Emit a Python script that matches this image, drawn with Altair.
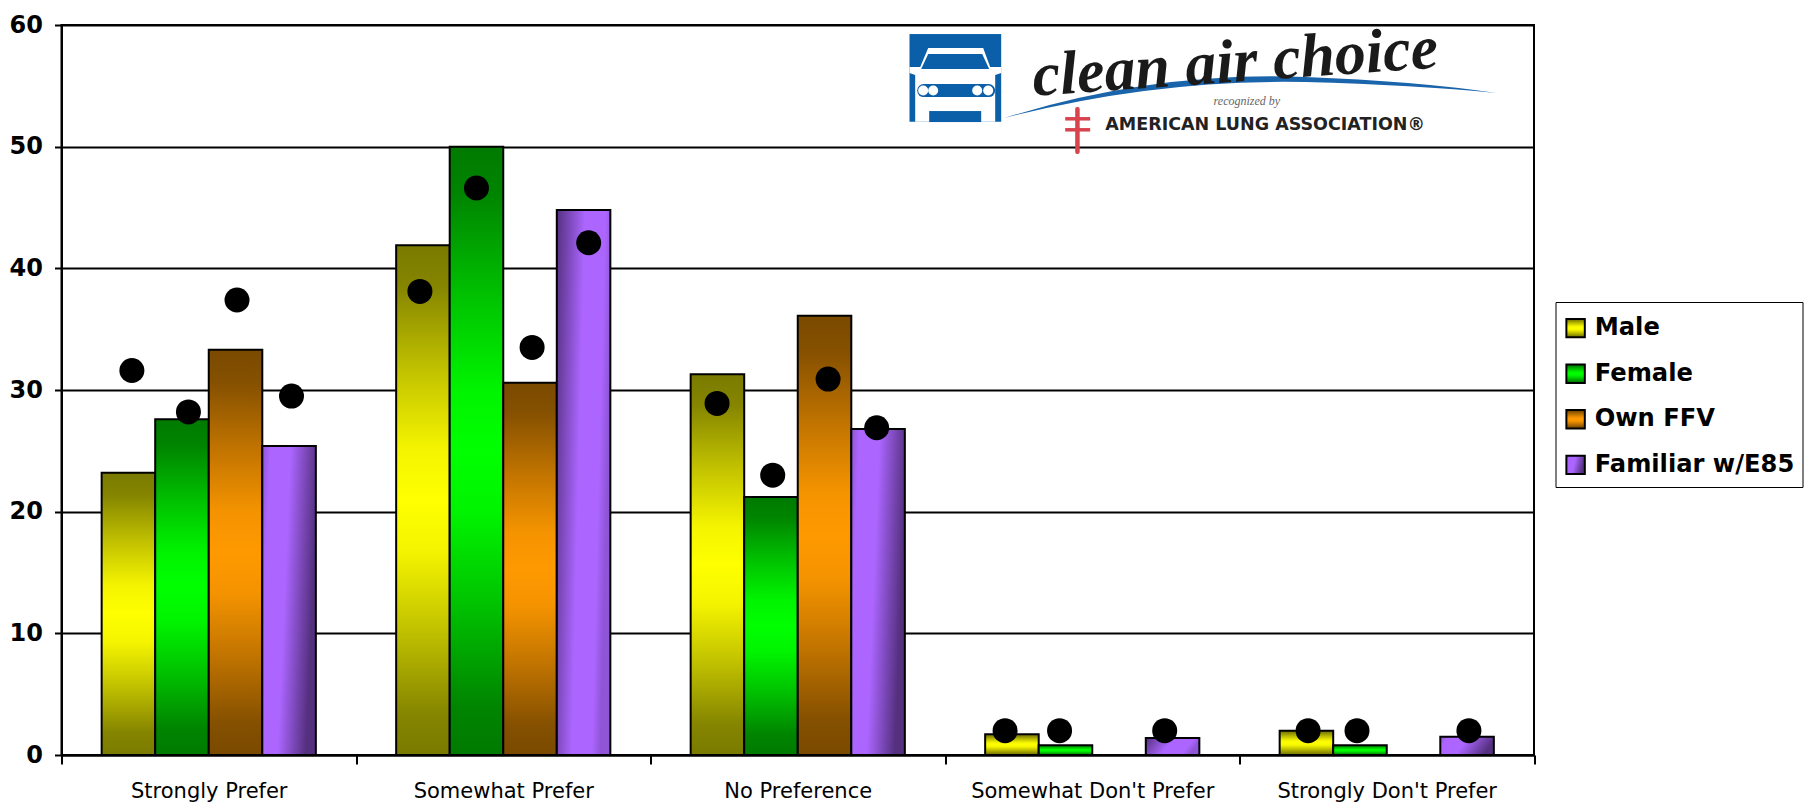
import urllib.parse
import altair as alt
import pandas as pd

categories = ["Strongly Prefer", "Somewhat Prefer", "No Preference", "Somewhat Don't Prefer", "Strongly Don't Prefer"]
series = ["Male", "Female", "Own FFV", "Familiar w/E85"]
male = [23.2, 41.9, 31.3, 1.7, 2.0]
female = [27.6, 50.0, 21.2, 0.8, 0.8]
own_ffv = [33.3, 30.6, 36.1, None, None]
familiar = [25.4, 44.8, 26.8, 1.4, 1.5]

dot_male = [31.6, 38.1, 28.9, 2.0, 2.0]
dot_female = [28.2, 46.6, 23.0, 2.0, 2.0]
dot_ffv = [37.4, 33.5, 30.9, None, None]
dot_familiar = [29.5, 42.1, 26.9, 2.0, 2.0]
dot_pos_male = [0.239, 1.217, 2.226, 3.204, 4.233]
dot_pos_female = [0.431, 1.409, 2.415, 3.389, 4.399]
dot_pos_ffv = [0.596, 1.598, 2.603, None, None]
dot_pos_familiar = [0.781, 1.790, 2.768, 3.746, 4.779]

LEFT_SHADED = "Familiar w/E85 (shaded left)"
bar_rows = []
for name, vals in zip(series, [male, female, own_ffv, familiar]):
    for i, (c, v) in enumerate(zip(categories, vals)):
        if v is None:
            continue
        key = LEFT_SHADED if (name == "Familiar w/E85" and i % 2 == 1) else name
        bar_rows.append({"category": c, "series": name, "shade": key, "value": v})
bars_df = pd.DataFrame(bar_rows)

dot_rows = []
for vals, pos in zip([dot_male, dot_female, dot_ffv, dot_familiar],
                     [dot_pos_male, dot_pos_female, dot_pos_ffv, dot_pos_familiar]):
    for v, p in zip(vals, pos):
        if v is not None:
            dot_rows.append({"pos": p, "value": v})
dots_df = pd.DataFrame(dot_rows)


def grad(x2, y2, x1=0, y1=0, stops=()):
    s = ",".join("{offset:%s,color:'%s'}" % st for st in stops)
    return {"expr": "{gradient:'linear',x1:%s,y1:%s,x2:%s,y2:%s,stops:[%s]}" % (x1, y1, x2, y2, s)}


def mix(dark, bright, t):
    d = [int(dark[i:i + 2], 16) for i in (1, 3, 5)]
    b = [int(bright[i:i + 2], 16) for i in (1, 3, 5)]
    return "#%02x%02x%02x" % tuple(round(p + (q - p) * t) for p, q in zip(d, b))


def vert(dark, bright):
    ramp = [(0, 0), (0.08, 0.08), (0.25, 0.55), (0.4, 0.92), (0.5, 1), (0.6, 0.92), (0.75, 0.55), (0.92, 0.08), (1, 0)]
    return grad(0, 1, stops=[(o, mix(dark, bright, t)) for o, t in ramp])


fills = [
    vert("#7a7a00", "#ffff00"),
    vert("#007a00", "#00ff00"),
    vert("#7a4a00", "#ff9900"),
    grad(1, 0.25, stops=[(0, "#8f55d6"), (0.15, "#ac66ff"), (0.5, "#ac66ff"), (1, "#54307f")]),
    grad(1, 0.25, stops=[(0, "#54307f"), (0.5, "#ac66ff"), (0.85, "#ac66ff"), (1, "#8f55d6")]),
]

car_svg = """<svg xmlns='http://www.w3.org/2000/svg' width='595' height='155' viewBox='0 0 595 155'>
<rect x='4.3' y='29' width='91.7' height='87.7' fill='#0b5fa9'/>
<path d='M23,43 L78,43 L85,62 L96,62 L96,68 L90,70 L90,116.7 L10,116.7 L10,70 L4.3,68 L4.3,62 L15,62 Z' fill='#ffffff'/>
<path d='M23,49 L77,49 L84,64 L16,64 Z' fill='#0b5fa9'/>
<rect x='12' y='79' width='78' height='13' rx='6.5' fill='#0b5fa9'/>
<circle cx='18' cy='85.5' r='5' fill='#ffffff'/><circle cx='28' cy='85.5' r='5' fill='#ffffff'/>
<circle cx='72' cy='85.5' r='5' fill='#ffffff'/><circle cx='83' cy='85.5' r='5' fill='#ffffff'/>
<rect x='24' y='106' width='52' height='11' fill='#0b5fa9'/>
<path d='M99,113 Q250,66 400,72 Q510,76 591,88 Q510,80 400,77 Q250,74 99,113 Z' fill='#1a64ab'/>
<rect x='170' y='102' width='4.5' height='47' rx='2' fill='#d8434e'/>
<rect x='160' y='112' width='25' height='3.5' fill='#d8434e'/>
<rect x='160' y='123' width='25' height='3.5' fill='#d8434e'/>
</svg>"""
logo_url = ["data:image/svg+xml," + urllib.parse.quote(car_svg)]
logo_pos = [3.875]
logo_val = [55.27]

logo_texts = ["clean air choice", "recognized by", "AMERICAN LUNG ASSOCIATION\u00ae"]
logo_text_pos = [3.985, 4.025, 4.087]
logo_text_val = [56.9, 53.75, 51.8]

x_bar = alt.X("category:N", sort=categories, scale=alt.Scale(domain=categories, paddingInner=0, paddingOuter=0),
              axis=alt.Axis(title=None, labelAngle=0, tickBand="extent", labelFont="DejaVu Sans", labelFontSize=21,
                            labelColor="black", labelPadding=16, labelLimit=280, tickSize=9, tickColor="black", tickWidth=2,
                            domainColor="black", domainWidth=2, grid=False))
y_main = alt.Y("value:Q", scale=alt.Scale(domain=[0, 60], nice=False),
               axis=alt.Axis(title=None, values=[0, 10, 20, 30, 40, 50, 60], labelFont="DejaVu Sans", labelFontWeight="bold",
                             labelFontSize=24, labelColor="black", labelPadding=12, tickSize=7, tickColor="black",
                             tickWidth=2, domainColor="black", domainWidth=2, grid=True, gridColor="black", gridWidth=2))

bars = alt.Chart(bars_df).mark_bar(stroke="black", strokeWidth=2).encode(
    x=x_bar,
    xOffset=alt.XOffset("series:N", sort=series,
                        scale=alt.Scale(domain=series, paddingInner=0, paddingOuter=0.75)),
    y=y_main,
    color=alt.Color("shade:N", scale=alt.Scale(domain=series + [LEFT_SHADED], range=fills),
                    legend=alt.Legend(title=" ", titleFontSize=1, titlePadding=5,
                                      values=series, orient="none", legendX=1494, legendY=277,
                                      fillColor="white", strokeColor="black", padding=8,
                                      labelFont="DejaVu Sans", labelFontWeight="bold", labelFontSize=24.2,
                                      labelColor="black", labelOffset=7, labelLimit=260, rowPadding=17.6,
                                      symbolType="square", symbolSize=340, symbolStrokeColor="black",
                                      symbolStrokeWidth=2, symbolOpacity=1)),
)

x_dot = alt.X("pos:Q", scale=alt.Scale(domain=[0, 5], nice=False, zero=False), axis=None)

logo_df = pd.DataFrame({"pos": logo_pos, "value": logo_val, "url": logo_url})
logo = alt.Chart(logo_df).mark_image(width=595, height=155).encode(x=x_dot, y=y_main, url="url:N")

txt_df = pd.DataFrame({"pos": logo_text_pos, "value": logo_text_val, "t": logo_texts})
t1 = alt.Chart(txt_df[txt_df.t == logo_texts[0]]).mark_text(
    font="Liberation Serif", fontStyle="italic", fontWeight="bold", fontSize=62, angle=356, color="#1a1a1a"
).encode(x=x_dot, y=y_main, text="t:N")
t2 = alt.Chart(txt_df[txt_df.t == logo_texts[1]]).mark_text(
    font="Liberation Serif", fontStyle="italic", fontSize=12, color="#666666"
).encode(x=x_dot, y=y_main, text="t:N")
t3 = alt.Chart(txt_df[txt_df.t == logo_texts[2]]).mark_text(
    font="DejaVu Sans", fontWeight="bold", fontSize=17.5, color="#222222"
).encode(x=x_dot, y=y_main, text="t:N")

dots = alt.Chart(dots_df).mark_point(filled=True, shape="circle", size=625, color="black", opacity=1).encode(x=x_dot, y=y_main)

overlay = alt.layer(logo, t1, t2, t3, dots)

chart = alt.layer(bars, overlay).resolve_scale(x="independent").properties(
    width=1472.5, height=730,
    autosize=alt.AutoSizeParams(type="none"),
    padding={"left": 53.5, "top": 17, "right": 272, "bottom": 47},
    background="white",
).configure_view(stroke="black", strokeWidth=2)

chart.save("out.html", embed_options={"renderer": "svg", "actions": False})
